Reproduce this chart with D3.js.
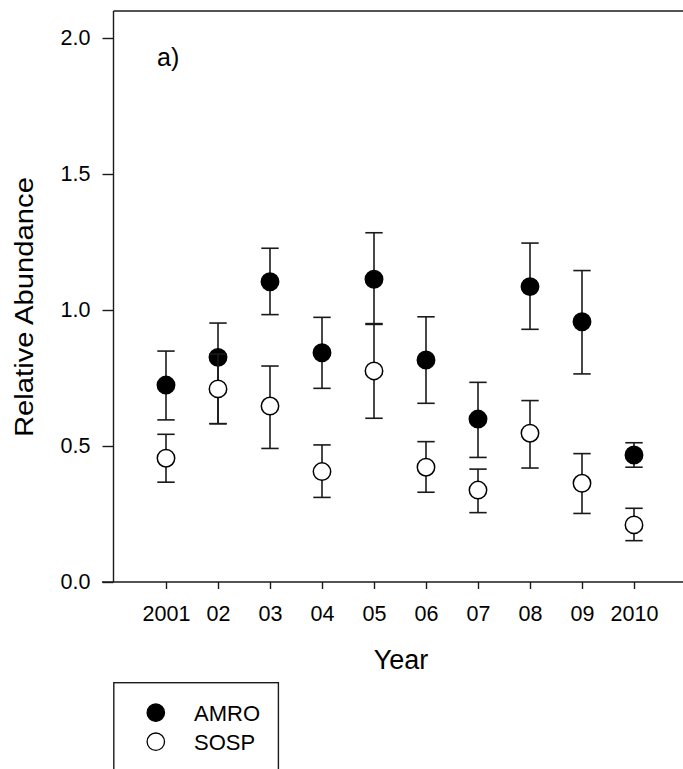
<!DOCTYPE html>
<html>
<head>
<meta charset="utf-8">
<script src="https://cdn.jsdelivr.net/npm/d3@7"></script>
<style>
  html, body { margin: 0; padding: 0; background: #fff; }
  svg { display: block; }
  text { font-family: "Liberation Sans", Arial, sans-serif; fill: #000; }
</style>
</head>
<body>
<svg id="chart" width="683" height="769"></svg>
<script>
// ---- data ----
const years = [2001, 2002, 2003, 2004, 2005, 2006, 2007, 2008, 2009, 2010];
const tickLabels = ["2001", "02", "03", "04", "05", "06", "07", "08", "09", "2010"];
const amroMean  = [0.724, 0.826, 1.104, 0.843, 1.113, 0.816, 0.599, 1.086, 0.957, 0.467];
const amroUpper = [0.849, 0.952, 1.227, 0.973, 1.284, 0.975, 0.734, 1.246, 1.145, 0.512];
const amroLower = [0.596, 0.582, 0.983, 0.712, 0.947, 0.657, 0.458, 0.929, 0.765, 0.422];
const sospMean  = [0.455, 0.710, 0.647, 0.406, 0.776, 0.422, 0.338, 0.547, 0.363, 0.210];
const sospUpper = [0.543, 0.838, 0.794, 0.504, 0.950, 0.516, 0.415, 0.667, 0.472, 0.271];
const sospLower = [0.367, 0.582, 0.491, 0.311, 0.602, 0.330, 0.255, 0.419, 0.252, 0.152];
const yTicks = [0, 0.5, 1.0, 1.5, 2.0];
const seriesNames = ["AMRO", "SOSP"];

// ---- layout ----
const svg = d3.select("#chart");
const pLeft = 113.5, pTop = 11, pBottom = 582, pRight = 683;
const y = d3.scaleLinear().domain([0, 2]).range([582, 38]);
const x = d3.scaleLinear().domain([2000, 2011]).range([114, 686]);
const ink = "#1a1a1a";
const FONT = "Liberation Sans, Arial, sans-serif";

// frame: top line
svg.append("line").attr("x1", pLeft).attr("x2", pRight + 5).attr("y1", pTop).attr("y2", pTop)
  .attr("stroke", ink).attr("stroke-width", 1.4);

// y axis
const yAxis = d3.axisLeft(y).tickValues(yTicks).tickFormat(d3.format(".1f"))
  .tickSize(11).tickPadding(12);
const gy = svg.append("g").attr("transform", `translate(${pLeft},0)`).call(yAxis);
gy.select(".domain").remove();
gy.append("line").attr("x1", 0).attr("x2", 0).attr("y1", pTop).attr("y2", pBottom)
  .attr("stroke", ink).attr("stroke-width", 1.4);
gy.selectAll(".tick line").attr("stroke", ink).attr("stroke-width", 1.4);
gy.selectAll(".tick text").style("font-size", "21.5px").style("font-family", FONT).attr("fill", "#000");

// x axis
const xAxis = d3.axisBottom(x).tickValues(years).tickFormat((d, i) => tickLabels[i])
  .tickSize(7).tickPadding(16.5);
const gx = svg.append("g").attr("transform", `translate(0,${pBottom})`).call(xAxis);
gx.select(".domain").remove();
gx.append("line").attr("x1", 102).attr("x2", pRight + 5).attr("y1", 0).attr("y2", 0)
  .attr("stroke", ink).attr("stroke-width", 1.4);
gx.selectAll(".tick line").attr("stroke", ink).attr("stroke-width", 1.4);
gx.selectAll(".tick text").style("font-size", "21.5px").style("font-family", FONT).attr("fill", "#000");

// axis titles
svg.append("text").attr("x", 401).attr("y", 669).attr("text-anchor", "middle")
  .style("font-size", "27px").text("Year");
svg.append("text").attr("transform", "translate(33,307) rotate(-90)").attr("text-anchor", "middle")
  .attr("textLength", 260).attr("lengthAdjust", "spacingAndGlyphs")
  .style("font-size", "26px").text("Relative Abundance");
svg.append("text").attr("x", 157).attr("y", 66).style("font-size", "25px").text("a)");

// error bars + points
const capW = 8.7, rad = 8.7;
function drawSeries(mean, upper, lower, fill) {
  const g = svg.append("g");
  const bars = g.selectAll("g.bar").data(years.map((yr, i) => ({yr, m: mean[i], u: upper[i], l: lower[i]})))
    .enter().append("g");
  bars.append("line").attr("x1", d => x(d.yr)).attr("x2", d => x(d.yr))
    .attr("y1", d => y(d.u)).attr("y2", d => y(d.l)).attr("stroke", ink).attr("stroke-width", 1.6);
  bars.append("line").attr("x1", d => x(d.yr) - capW).attr("x2", d => x(d.yr) + capW)
    .attr("y1", d => y(d.u)).attr("y2", d => y(d.u)).attr("stroke", ink).attr("stroke-width", 1.6);
  bars.append("line").attr("x1", d => x(d.yr) - capW).attr("x2", d => x(d.yr) + capW)
    .attr("y1", d => y(d.l)).attr("y2", d => y(d.l)).attr("stroke", ink).attr("stroke-width", 1.6);
  bars.append("circle").attr("cx", d => x(d.yr)).attr("cy", d => y(d.m)).attr("r", rad)
    .attr("fill", fill).attr("stroke", "#000").attr("stroke-width", 1.5);
}
drawSeries(amroMean, amroUpper, amroLower, "#000");
drawSeries(sospMean, sospUpper, sospLower, "#fff");

// legend
svg.append("rect").attr("x", 113.8).attr("y", 682.7).attr("width", 164.6).attr("height", 120)
  .attr("fill", "none").attr("stroke", ink).attr("stroke-width", 1.4);
const lg = svg.append("g").selectAll("g").data(seriesNames).enter().append("g")
  .attr("transform", (d, i) => `translate(155.8,${712.7 + i * 29})`);
lg.append("circle").attr("r", 8.7).attr("fill", (d, i) => i === 0 ? "#000" : "#fff")
  .attr("stroke", "#000").attr("stroke-width", 1.3);
lg.append("text").attr("x", 38.2).attr("y", 8).style("font-size", "22px").text(d => d);
</script>
</body>
</html>
